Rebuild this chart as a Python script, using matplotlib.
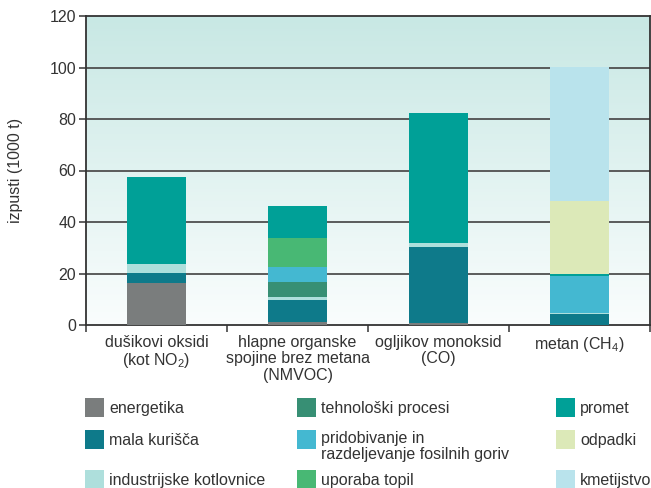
import numpy as np
import matplotlib
matplotlib.use("Agg")
import matplotlib.pyplot as plt
from matplotlib.patches import Rectangle

plt.rcParams['font.family'] = ['Liberation Sans', 'DejaVu Sans']
plt.rcParams['mathtext.fontset'] = 'custom'
plt.rcParams['mathtext.rm'] = 'Liberation Sans'
plt.rcParams['mathtext.it'] = 'Liberation Sans'
plt.rcParams['mathtext.default'] = 'regular'

# ---- data ----
categories = ["dušikovi oksidi\n(kot NO$_2$)",
              "hlapne organske\nspojine brez metana\n(NMVOC)",
              "ogljikov monoksid\n(CO)",
              "metan (CH$_4$)"]
sources = ["energetika", "mala kurišča", "industrijske kotlovnice",
           "tehnološki procesi", "pridobivanje in\nrazdeljevanje fosilnih goriv",
           "uporaba topil", "promet", "odpadki", "kmetijstvo"]
energetika = [16.3, 1.2, 0.8, 0.0]
mala_kurisca = [3.9, 8.5, 29.5, 4.4]
industrijske_kotlovnice = [3.5, 1.3, 1.5, 0.4]
tehnoloski_procesi = [0.0, 5.7, 0.0, 0.0]
pridobivanje = [0.0, 5.8, 0.0, 14.4]
uporaba_topil = [0.0, 11.3, 0.0, 0.0]
promet = [33.8, 12.4, 50.5, 0.7]
odpadki = [0.0, 0.0, 0.0, 28.3]
kmetijstvo = [0.0, 0.0, 0.0, 52.0]
yticks = [0, 20, 40, 60, 80, 100, 120]

series = [energetika, mala_kurisca, industrijske_kotlovnice, tehnoloski_procesi,
          pridobivanje, uporaba_topil, promet, odpadki, kmetijstvo]
colors = ["#7a7d7d", "#0e7a8a", "#aedfdc", "#378f74", "#44b8d1",
          "#48b874", "#00a097", "#dce9b8", "#b9e3ec"]

FS = 11.5
TC = "#333333"
W, H = 651, 488
fig = plt.figure(figsize=(W / 100, H / 100), dpi=100)
ax = fig.add_axes([86 / W, 1 - 325 / H, (650 - 86) / W, (325 - 16) / H])

# gradient background
top = np.array([200, 232, 228]) / 255
bot = np.array([250, 253, 253]) / 255
t = np.linspace(0, 1, 256)[:, None]
grad = (top[None, :] * (1 - t) + bot[None, :] * t)[:, None, :]
ax.imshow(grad, extent=[-0.5, 3.5, 0, 120], aspect='auto', zorder=0,
          interpolation='bilinear')

x = np.arange(len(categories))
bottom = np.zeros(len(categories))
for vals, col in zip(series, colors):
    v = np.array(vals)
    ax.bar(x, v, 0.42, bottom=bottom, color=col, zorder=3, linewidth=0)
    bottom += v

ax.set_xlim(-0.5, 3.5)
ax.set_ylim(0, 120)
for yv in yticks[1:-1]:
    ax.axhline(yv, color="#4f4f4f", lw=1.3, zorder=2)

ax.set_yticks(yticks)
ax.set_yticklabels([str(v) for v in yticks], fontsize=FS, color=TC)
ax.tick_params(axis='y', direction='out', length=5, width=1.2, color="#444444", pad=2)
ax.set_xticks(x)
ax.set_xticklabels(categories, fontsize=FS, color=TC, linespacing=1.12)
ax.tick_params(axis='x', which='major', length=0, pad=7)
ax.set_xticks([-0.5, 0.5, 1.5, 2.5, 3.5], minor=True)
ax.tick_params(axis='x', which='minor', direction='out', length=5, width=1.2, color="#444444")
for s in ax.spines.values():
    s.set_color("#333333")
    s.set_linewidth(1.3)

fig.text(16 / W, 1 - 170 / H, "izpusti (1000 t)", rotation=90, ha='center', va='center',
         fontsize=FS, color=TC)

# legend (manual, 3 columns)
col_x = [85, 297, 556]
row_y = [398, 430, 470]
sq = 19
for i, (lab, col) in enumerate(zip(sources, colors)):
    c, r = divmod(i, 3)
    x0, y0 = col_x[c], row_y[r]
    fig.add_artist(Rectangle((x0 / W, 1 - (y0 + sq) / H), sq / W, sq / H,
                             transform=fig.transFigure, facecolor=col, edgecolor='none'))
    if "\n" in lab:
        fig.text((x0 + 24) / W, 1 - (y0 + 1) / H, lab, ha='left', va='top',
                 fontsize=FS, color=TC, linespacing=1.1)
    else:
        fig.text((x0 + 24) / W, 1 - (y0 + sq / 2 + 1) / H, lab, ha='left', va='center',
                 fontsize=FS, color=TC)

fig.savefig("out.png", dpi=100)
